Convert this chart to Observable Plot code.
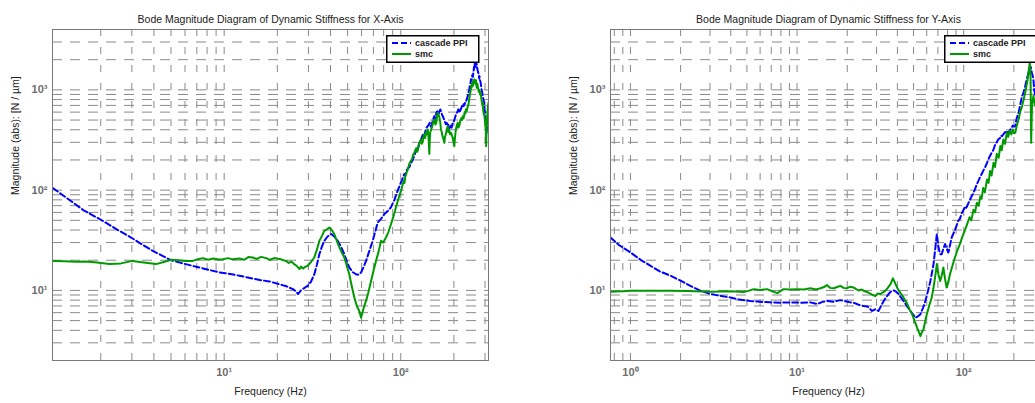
<!DOCTYPE html>
<html><head><meta charset="utf-8">
<script src="https://cdn.jsdelivr.net/npm/d3@7"></script>
<script src="https://cdn.jsdelivr.net/npm/@observablehq/plot@0.6"></script>
<style>
body{margin:0;background:#fff;font-family:"Liberation Sans",Arial,Helvetica,sans-serif;}
#wrap{position:relative;width:1035px;height:403px;overflow:hidden;background:#fff;}
.panel{position:absolute;top:0;}
.legend{position:absolute;top:35px;}
</style></head><body><div id="wrap"></div>
<script>
// ---------- X-Axis panel data ----------
const freqX_ppi = [1.07,1.3,1.6,2.05,2.5,2.97,3.4,3.94,4.5,5.0,5.9,6.94,8,9.42,10.8,12.2,14,15.9,18,20.6,22.5,24.5,25.5,26.2,27.2,28.5,29.7,31,32.4,33.5,34.6,35.8,36.9,38.5,40.3,42,44,46,47.9,49.5,51.1,53.5,55.8,57.5,59.6,61.5,63.6,66.5,69.4,71.5,74.1,77.5,80.8,84.5,88.1,92,96.1,
  100,102,104.8,106,108,110,111.9,114,116,118,119.4,121,123,125,127,129,130.4,132,134,136,138,140,142.2,144,146,148,150,152,155,157,159,161,163,165,167.5,170,171.5,173,175,176,178,180,182,184.6,186,188,190,192,194,197,199,201,203,205,207,210,212,215,217,219,222,224.5,227,229,232,234,237,239.7,242,244,246,248,250,252,254,256,258,260,261,263,265,267,269.6,271,272,274,276,278,279,281,283,285,287,289,291.7,294,296,298,300,302,304.6,306,309,311,314];
const magX_ppi  = [105,82,63,49.5,40,33.7,29,24.8,22,20,18.5,17.2,16.2,15.1,14.6,14.0,13.3,12.7,12.3,11.5,11.0,10.3,9.8,9.2,10.0,10.6,11.1,12.2,14.5,18,23,27.5,31.2,34.5,36.5,34.5,31.2,27,23,19.5,17,15.2,14.5,14.3,15.1,17,19.7,25,31.2,38,47.6,52,57.7,62,67.8,80,99,
  118,128,145,140,158,165,170,185,195,210,218,240,265,255,290,305,320,340,365,350,390,420,434,450,470,430,455,500,547,520,590,610,560,600,638,600,560,547,520,500,480,455,470,434,450,410,430,445,420,470,480,500,530,560,580,614,640,590,620,640,690,664,720,700,760,760,820,867,950,980,1100,1150,1274,1250,1400,1350,1500,1700,1603,1900,1700,1850,1799,1650,1600,1500,1450,1300,1374,1250,1200,1100,1000,950,867,800,750,650,600,500,434,480,520,450,373];
const freqX_smc = [1.07,1.25,1.45,1.65,1.9,2.24,2.6,3.03,3.5,4.12,4.6,5.01,5.5,6.0,6.65,7.1,7.57,8.1,8.7,9.3,9.84,10.5,11.2,12.2,13,13.7,14.5,15.3,16.2,17.3,18.2,19.2,20.9,21.6,22.4,23.2,24,24.9,25.8,26.7,27.2,28,28.8,29.7,31,32.4,33.5,34.6,35.8,36.9,38,39.4,40.5,42,43.5,44.9,46.3,47.9,49.5,51.1,52.8,54.6,56.4,58.3,59.6,61.5,63.6,65.5,67.9,70,72.4,75,77.3,79.5,82.5,85,88.1,91,94,97,
  100.4,102,104,105,106,108,109.6,111,112,114,116,117.5,119.4,121,122,123.5,125,126,127,129,130.4,131.5,133,134.5,136,137.5,139,140.5,142.2,143.5,145.2,146,147,148.5,150,152,155,157,159,160.5,162,164,166,167.5,169,170.5,172,174,176.6,178,180,182,184.6,186,188,190,192.8,195,197,199,201,203,205,207,210,212,215,217,220,222,224.5,227,230,232,234,237,239.7,242,244,246,248,249,250,252,254,255.5,257,259,261,263,265,267,269,271,273,275,277,279,281,283,285,287,290,291.5,293,295,298,299.5,301,303,304.6,306,308,309.5,311,312.5,314];
const magX_smc  = [19.7,19.5,19.3,19.4,19.0,18.3,18.6,19.7,19.0,18.3,19.3,20.2,20.0,19.6,19.7,20.5,21.0,20.2,20.8,20.3,20.5,21.0,20.4,20.8,20.2,21.5,21.3,20.6,21.6,21.0,20.2,21.0,20.5,20.0,19.7,18.8,19.3,18.3,17.5,16.3,17.3,16.5,17.2,17.6,19.2,21.3,25.5,31.2,35,39.3,40.5,42.4,40.5,36.5,31,26.9,24,21.3,17.5,14.5,11,8.5,7.0,6.2,5.35,6.6,7.9,9.5,12.4,15.5,19.7,24.5,31.2,30,33.7,38,46,55,67.8,82,
  99,110,125,118,135,150,160,175,184,195,205,225,236,250,260,240,250,275,290,310,320,290,300,340,360,330,380,360,403,350,230,320,380,400,420,460,507,450,470,540,592,560,520,470,403,380,350,330,296,340,360,400,434,380,400,360,373,350,330,300,274,340,400,430,470,420,440,490,520,500,547,520,600,580,640,620,689,720,800,880,950,1000,1092,1050,1200,1150,1100,1250,1274,1200,1150,1250,1050,1150,1092,1000,950,1000,900,950,867,780,700,750,620,580,547,500,450,400,274,380,500,580,650,700,745];

// ---------- Y-Axis panel data ----------
const freqY_ppi = [0.759,0.85,1.0,1.15,1.32,1.5,1.74,2.0,2.29,2.6,3.02,3.5,3.98,4.5,5.25,6.0,6.9,8.0,9.12,10.5,12.0,13.2,14.2,15.1,16.5,18.2,19.5,20.9,22,23.4,25,26.5,28.2,29.5,30.8,32.3,33.8,35.4,36.7,38.0,39.3,40.7,42,43.6,45.6,47.8,49.5,51.4,53,55.0,57,58.9,61,63.1,64.5,65.9,67.5,69.0,70.6,72.2,73.8,75.5,77.3,79,80.9,82.7,84.7,
  88.6,90.5,92.7,95,97,99,101.6,103,104.7,107,109,112,114.6,117,120,123,125.9,129,132,135,138,141,144,147,151,154,158,161,165,167.5,170,174,178,181,184,187,190.5,194,197,200,204,206,208,211,213.5,216,218,221,224,226.5,229,231.5,234,237,240,242.5,245,248,251,253.5,256,259,262,265,269,275,281,287,293,300,307,314];
const magY_ppi  = [33.7,28.5,23.9,20.2,17.6,15.5,14.0,12.5,11.1,10.0,9.2,8.8,8.5,8.1,7.85,7.7,7.6,7.55,7.6,7.55,7.6,7.3,7.7,7.85,7.7,8.0,7.8,7.6,7.5,7.2,7.0,6.9,6.24,6.5,6.24,7.3,8.3,9.2,9.8,10.0,9.7,9.2,8.5,7.85,7.0,6.24,5.8,5.35,5.5,5.8,6.7,7.85,9.8,12.4,15,18.3,26,36.5,26.9,23,23.0,26,29.0,26,23.9,28,33.7,
  40,44,49.5,52,58,62,67.8,66,68.9,75,80,88,93.8,103,115,125,137,148,160,172,187,205,220,235,254,280,300,320,330,350,345,365,380,390,370,385,403,420,440,430,434,480,520,560,592,650,700,780,867,900,950,1020,1092,1200,1300,1400,1486,1600,1730,1650,1500,1400,1274,1000,867,1000,1200,900,700,800,600,700];
const freqY_smc = [0.759,0.9,1.0,1.32,1.7,2.2,3.02,3.5,4.0,4.78,5.1,5.5,6.0,6.6,7.1,7.6,8.3,9.0,9.98,11,12.0,13,13.8,14.5,15.1,15.8,16.6,17.4,18.2,19.0,19.9,20.8,21.8,22.6,23.4,24.5,25.5,26.5,27.5,28.5,29.5,30.5,31.5,32.6,33.8,35,36.3,37.6,38.6,39.8,41.4,43.0,44.4,45.9,47.5,49,50.7,52.5,54,55,56,57.4,58.7,60.1,62,64.3,65.8,67.3,69,70.5,72.2,73.8,75.5,77.3,79.0,80.8,82.7,85.5,88.6,91.5,94.8,98,101.6,105,108.4,111,114.6,117,120,123,125.9,128,131,134,138,141,144,147,151,154,158,162,166,169,173,177,181.5,185,189,193,197,200,204,207,209,213.5,218,224,229,234,238,242,246,249.6,252,254,257,262,269,275,281,287,293,300,307,314];
const magY_smc  = [9.7,9.8,9.9,9.9,9.95,9.85,9.7,9.75,9.8,9.65,9.9,10.3,10.1,10.3,9.8,9.4,10.3,10.2,10.3,10.2,10.5,10.2,10.5,10.8,11.3,10.6,10.5,10.8,11.1,10.6,10.5,10.9,10.7,10.3,10.0,10.2,9.8,9.6,9.3,9.0,8.8,9.3,9.2,9.5,9.9,10.6,11.5,13.2,12.0,10.7,9.6,8.8,8.0,7.3,6.4,5.8,5.0,4.25,3.8,3.5,3.8,4.1,4.9,5.8,7.0,8.5,10.5,13.4,18.3,14.5,12.4,14,16.9,13,10.7,12,14.5,17.5,21.3,25,29.0,34,39.6,46,53.7,50,63.8,60,75,70,86.7,82,105,95,127.6,118,155,140,187,170,230,210,276,250,320,290,374,340,390,360,403,370,374,420,450,507,600,689,800,942,1100,1274,1600,1880,1300,297,700,867,689,800,950,700,550,650,500,600];

const titleX = "Bode Magnitude Diagram of Dynamic Stiffness for X-Axis";
const titleY = "Bode Magnitude Diagram of Dynamic Stiffness for Y-Axis";
const xLabel = "Frequency (Hz)";
const yLabel = "Magnitude (abs): [N / µm]";
const seriesNames = ["cascade PPI", "smc"];
const yTicks = [10, 100, 1000];

const BLUE = "#0000ff", GREEN = "#009a00", GRID = "#8a8a8a";
const FONT = "'Liberation Sans', Arial, Helvetica, sans-serif";
const SUP = {"-1":"⁻¹","0":"⁰","1":"¹","2":"²","3":"³"};
const fmt = d => "10" + SUP[String(Math.round(Math.log10(d)))];

function makePanel(opts) {
  const {title, fP, mP, fS, mS, xDomain, xTicks} = opts;
  const yDomain = [2, 4000];
  const ppi = fP.map((f, i) => ({f, m: mP[i]}));
  const smc = fS.map((f, i) => ({f, m: mS[i]}));
  const gridX = [], gridY = [];
  for (let k = -1; k <= 3; k++) for (let d = 1; d <= 9; d++) {
    const v = d * Math.pow(10, k);
    if (v > xDomain[0] * 1.005 && v < xDomain[1] * 0.995) gridX.push(v);
    if (v > yDomain[0] * 1.005 && v < yDomain[1] * 0.995) gridY.push(v);
  }
  return Plot.plot({
    width: 517, height: 403,
    marginLeft: 52, marginRight: 29, marginTop: 29, marginBottom: 43,
    style: {fontFamily: FONT, background: "transparent", overflow: "visible"},
    x: {type: "log", domain: xDomain},
    y: {type: "log", domain: yDomain},
    marks: [
      Plot.ruleX(gridX, {stroke: GRID, strokeWidth: 1, strokeDasharray: "7,11"}),
      Plot.ruleY(gridY, {stroke: GRID, strokeWidth: 1, strokeDasharray: "10,8"}),
      Plot.line(ppi, {x: "f", y: "m", stroke: BLUE, strokeWidth: 2, strokeDasharray: "6,3", clip: true}),
      Plot.line(smc, {x: "f", y: "m", stroke: GREEN, strokeWidth: 2, clip: true}),
      Plot.frame({stroke: "#7a7a7a", strokeWidth: 1}),
      Plot.axisX({ticks: xTicks, tickFormat: fmt, tickSize: 0, tickPadding: 8, label: null,
                  fontSize: 11, fontWeight: "bold", color: "#6e6e6e"}),
      Plot.axisY({ticks: yTicks, tickFormat: fmt, tickSize: 0, tickPadding: 5, label: null,
                  fontSize: 11, fontWeight: "bold", color: "#6e6e6e"}),
      Plot.text([title], {frameAnchor: "top", dy: -14, fontSize: 10.5, fill: "#222"}),
      Plot.text([xLabel], {frameAnchor: "bottom", dy: 34, fontSize: 10.5, fill: "#222"}),
      Plot.text([yLabel], {frameAnchor: "left", dx: -37, rotate: -90, fontSize: 10.5, fill: "#222"})
    ]
  });
}

function makeLegend() {
  const ns = "http://www.w3.org/2000/svg";
  const svg = document.createElementNS(ns, "svg");
  svg.setAttribute("width", 94); svg.setAttribute("height", 28);
  svg.innerHTML =
    `<rect x="0.75" y="0.75" width="92" height="26.5" fill="#fff" stroke="#000" stroke-width="1.5"/>
     <line x1="6" y1="8" x2="25" y2="8" stroke="${BLUE}" stroke-width="2" stroke-dasharray="6,3"/>
     <line x1="6" y1="19" x2="25" y2="19" stroke="${GREEN}" stroke-width="2"/>
     <text x="29" y="11" font-family="${FONT}" font-size="9" font-weight="bold" fill="#222">${seriesNames[0]}</text>
     <text x="29" y="22" font-family="${FONT}" font-size="9" font-weight="bold" fill="#222">${seriesNames[1]}</text>`;
  return svg;
}

const wrap = document.getElementById("wrap");
const p1 = makePanel({title: titleX, fP: freqX_ppi, mP: magX_ppi, fS: freqX_smc, mS: magX_smc, xDomain: [1.066, 314], xTicks: [10, 100]});
p1.classList.add("panel"); p1.style.left = "0px"; wrap.appendChild(p1);
const p2 = makePanel({title: titleY, fP: freqY_ppi, mP: magY_ppi, fS: freqY_smc, mS: magY_smc, xDomain: [0.759, 314], xTicks: [1, 10, 100]});
p2.classList.add("panel"); p2.style.left = "558px"; wrap.appendChild(p2);
const l1 = makeLegend(); l1.classList.add("legend"); l1.style.left = "386px"; wrap.appendChild(l1);
const l2 = makeLegend(); l2.classList.add("legend"); l2.style.left = "944px"; wrap.appendChild(l2);
</script></body></html>
